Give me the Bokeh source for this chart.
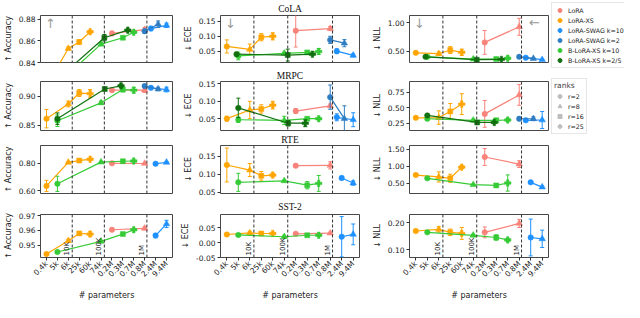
from math import pi
import numpy as np
from bokeh.plotting import figure
from bokeh.layouts import row, column
from bokeh.models import (Range1d, FixedTicker, NumeralTickFormatter, ColumnDataSource,
                          Span, Label, Legend, LegendItem)
from bokeh.core.properties import field
from bokeh.embed import file_html
from bokeh.resources import INLINE

# ---------------- categories / axes ----------------
TICK_LABELS = ["0.4k", "5k", "6k", "25k", "60k", "74k", "0.2M", "0.3M", "0.7M", "0.8M", "2.4M", "9.4M"]
TICK_PARAMS = [4e2, 5e3, 6e3, 2.5e4, 6e4, 7.4e4, 2e5, 3e5, 7e5, 8e5, 2.4e6, 9.4e6]
BOUND_PARAMS = [1e4, 1e5, 1e6]
BOUND_LABELS = ["10K", "100K", "1M"]
DATASETS = ["CoLA", "MRPC", "RTE", "SST-2"]
METRIC_LABELS = ["↑ Accuracy", "↓ ECE", "↓ NLL"]
SERIES = ["LoRA", "LoRA-XS", "LoRA-SWAG k=10", "LoRA-SWAG k=2", "B-LoRA-XS k=10", "B-LoRA-XS k=2/5"]
COLORS = ["#F8837A", "#FFA500", "#1E90FF", "#2E7CC2", "#36CB36", "#11700F"]
RANK_NAMES = ["r=2", "r=8", "r=16", "r=25"]
RANK_VALUES = [2, 8, 16, 25]

# parameter counts / ranks of each method
LORA_PARAMS = [2e5, 8e5];                  LORA_RANKS = [2, 8]
LORAXS_PARAMS = [4e2, 6e3, 2.5e4, 6e4];    LORAXS_RANKS = [2, 8, 16, 25]
SWAG10_PARAMS = [2.4e6, 9.4e6];            SWAG10_PARAMS_CM = [1.5e6, 9.4e6]; SWAG_RANKS = [2, 8]
SWAG2_PARAMS = [8e5, 3.3e6]
BLXS10_PARAMS = [5e3, 7.4e4, 3e5, 7e5];    BLXS10_RANKS = [2, 8, 16, 25]
BLXS25_PARAMS_COLA = [3.4e3, 1.0e5, 4.4e5]; BLXS25_PARAMS_MRPC = [5e3, 1.04e5, 2.8e5]; BLXS25_RANKS = [2, 16, 25]

# ---------------- values (mean, error) ----------------
# CoLA
COLA_ACC_LORA = [0.867, 0.8705];               COLA_ACC_LORA_E = [0.002, 0.002]
COLA_ACC_LORAXS = [0.818, 0.853, 0.859, 0.8685]; COLA_ACC_LORAXS_E = [0.002, 0.0015, 0.002, 0.001]
COLA_ACC_SWAG10 = [0.8715, 0.8745];            COLA_ACC_SWAG10_E = [0.002, 0.002]
COLA_ACC_SWAG2 = [0.869, 0.8755];              COLA_ACC_SWAG2_E = [0.002, 0.003]
COLA_ACC_BLXS10 = [0.820, 0.857, 0.863, 0.868]; COLA_ACC_BLXS10_E = [0.002, 0.0015, 0.001, 0.001]
COLA_ACC_BLXS25 = [0.823, 0.863, 0.870];       COLA_ACC_BLXS25_E = [0.002, 0.003, 0.001]

COLA_ECE_LORA = [0.119, 0.126];                COLA_ECE_LORA_E = [0.055, 0.007]
COLA_ECE_LORAXS = [0.066, 0.056, 0.097, 0.100]; COLA_ECE_LORAXS_E = [0.022, 0.018, 0.012, 0.012]
COLA_ECE_SWAG10 = [0.050, 0.036];              COLA_ECE_SWAG10_E = [0.008, 0.005]
COLA_ECE_SWAG2 = [0.088, 0.077];               COLA_ECE_SWAG2_E = [0.012, 0.012]
COLA_ECE_BLXS10 = [0.034, 0.043, 0.046, 0.049]; COLA_ECE_BLXS10_E = [0.013, 0.004, 0.005, 0.010]
COLA_ECE_BLXS25 = [0.040, 0.037, 0.040];       COLA_ECE_BLXS25_E = [0.006, 0.020, 0.003]

COLA_NLL_LORA = [0.655, 0.93];                 COLA_NLL_LORA_E = [0.21, 0.15]
COLA_NLL_LORAXS = [0.47, 0.455, 0.52, 0.48];   COLA_NLL_LORAXS_E = [0.01, 0.03, 0.06, 0.055]
COLA_NLL_SWAG10 = [0.385, 0.35];               COLA_NLL_SWAG10_E = [0.01, 0.01]
COLA_NLL_SWAG2 = [0.40, 0.37];                 COLA_NLL_SWAG2_E = [0.01, 0.01]
COLA_NLL_BLXS10 = [0.40, 0.36, 0.36, 0.375];   COLA_NLL_BLXS10_E = [0.01, 0.015, 0.01, 0.02]
COLA_NLL_BLXS25 = [0.40, 0.35, 0.355];         COLA_NLL_BLXS25_E = [0.01, 0.01, 0.01]

# MRPC
MRPC_ACC_LORA = [0.911, 0.911];                MRPC_ACC_LORA_E = [0.003, 0.004]
MRPC_ACC_LORAXS = [0.8615, 0.887, 0.906, 0.905]; MRPC_ACC_LORAXS_E = [0.016, 0.005, 0.006, 0.007]
MRPC_ACC_SWAG10 = [0.915, 0.912];              MRPC_ACC_SWAG10_E = [0.003, 0.004]
MRPC_ACC_SWAG2 = [0.918, 0.913];               MRPC_ACC_SWAG2_E = [0.003, 0.003]
MRPC_ACC_BLXS10 = [0.858, 0.889, 0.912, 0.911]; MRPC_ACC_BLXS10_E = [0.010, 0.003, 0.004, 0.005]
MRPC_ACC_BLXS25 = [0.8615, 0.913, 0.9185];     MRPC_ACC_BLXS25_E = [0.010, 0.003, 0.003]

MRPC_ECE_LORA = [0.072, 0.087];                MRPC_ECE_LORA_E = [0.007, 0.005]
MRPC_ECE_LORAXS = [0.050, 0.075, 0.078, 0.089]; MRPC_ECE_LORAXS_E = [0.007, 0.025, 0.012, 0.011]
MRPC_ECE_SWAG10 = [0.054, 0.047];              MRPC_ECE_SWAG10_E = [0.010, 0.020]
MRPC_ECE_SWAG2 = [0.112, 0.050];               MRPC_ECE_SWAG2_E = [0.035, 0.037]
MRPC_ECE_BLXS10 = [0.047, 0.045, 0.050, 0.050]; MRPC_ECE_BLXS10_E = [0.008, 0.012, 0.003, 0.003]
MRPC_ECE_BLXS25 = [0.081, 0.037, 0.037];       MRPC_ECE_BLXS25_E = [0.028, 0.008, 0.010]

MRPC_NLL_LORA = [0.40, 0.71];                  MRPC_NLL_LORA_E = [0.22, 0.17]
MRPC_NLL_LORAXS = [0.335, 0.34, 0.44, 0.56];   MRPC_NLL_LORAXS_E = [0.02, 0.11, 0.13, 0.17]
MRPC_NLL_SWAG10 = [0.295, 0.30];               MRPC_NLL_SWAG10_E = [0.02, 0.14]
MRPC_NLL_SWAG2 = [0.32, 0.32];                 MRPC_NLL_SWAG2_E = [0.03, 0.03]
MRPC_NLL_BLXS10 = [0.32, 0.295, 0.295, 0.30];  MRPC_NLL_BLXS10_E = [0.02, 0.02, 0.03, 0.02]
MRPC_NLL_BLXS25 = [0.375, 0.26, 0.26];         MRPC_NLL_BLXS25_E = [0.015, 0.015, 0.015]

# RTE
RTE_ACC_LORA = [0.798, 0.797];                 RTE_ACC_LORA_E = [0.005, 0.005]
RTE_ACC_LORAXS = [0.635, 0.805, 0.818, 0.828]; RTE_ACC_LORAXS_E = [0.04, 0.004, 0.004, 0.004]
RTE_ACC_SWAG10 = [0.795, 0.805];               RTE_ACC_SWAG10_E = [0.004, 0.004]
RTE_ACC_BLXS10 = [0.65, 0.807, 0.813, 0.815];  RTE_ACC_BLXS10_E = [0.055, 0.004, 0.004, 0.005]

RTE_ECE_LORA = [0.124, 0.125];                 RTE_ECE_LORA_E = [0.005, 0.010]
RTE_ECE_LORAXS = [0.126, 0.112, 0.096, 0.098]; RTE_ECE_LORAXS_E = [0.047, 0.018, 0.012, 0.005]
RTE_ECE_SWAG10 = [0.090, 0.076];               RTE_ECE_SWAG10_E = [0.005, 0.006]
RTE_ECE_BLXS10 = [0.078, 0.082, 0.070, 0.075]; RTE_ECE_BLXS10_E = [0.025, 0.003, 0.010, 0.022]

RTE_NLL_LORA = [1.27, 1.06];                   RTE_NLL_LORA_E = [0.25, 0.10]
RTE_NLL_LORAXS = [0.735, 0.68, 0.64, 0.97];    RTE_NLL_LORAXS_E = [0.03, 0.15, 0.12, 0.04]
RTE_NLL_SWAG10 = [0.52, 0.38];                 RTE_NLL_SWAG10_E = [0.03, 0.03]
RTE_NLL_BLXS10 = [0.64, 0.45, 0.43, 0.50];     RTE_NLL_BLXS10_E = [0.02, 0.02, 0.02, 0.24]

# SST-2
SST_ACC_LORA = [0.9605, 0.9615];               SST_ACC_LORA_E = [0.001, 0.001]
SST_ACC_LORAXS = [0.9438, 0.953, 0.958, 0.9575]; SST_ACC_LORAXS_E = [0.0005, 0.001, 0.001, 0.0015]
SST_ACC_SWAG10 = [0.9565, 0.9645];             SST_ACC_SWAG10_E = [0.0015, 0.0025]
SST_ACC_BLXS10 = [0.9452, 0.9525, 0.9575, 0.9605]; SST_ACC_BLXS10_E = [0.0008, 0.0005, 0.0008, 0.0005]

SST_ECE_LORA = [0.030, 0.032];                 SST_ECE_LORA_E = [0.004, 0.003]
SST_ECE_LORAXS = [0.0276, 0.033, 0.031, 0.031]; SST_ECE_LORAXS_E = [0.002, 0.005, 0.003, 0.002]
SST_ECE_SWAG10 = [0.020, 0.028];               SST_ECE_SWAG10_E = [0.068, 0.035]
SST_ECE_BLXS10 = [0.026, 0.020, 0.025, 0.025]; SST_ECE_BLXS10_E = [0.003, 0.005, 0.002, 0.003]

SST_NLL_LORA = [0.164, 0.197];                 SST_NLL_LORA_E = [0.02, 0.015]
SST_NLL_LORAXS = [0.169, 0.175, 0.164, 0.160]; SST_NLL_LORAXS_E = [0.003, 0.01, 0.012, 0.022]
SST_NLL_SWAG10 = [0.145, 0.140];               SST_NLL_SWAG10_E = [0.068, 0.032]
SST_NLL_BLXS10 = [0.164, 0.153, 0.145, 0.136]; SST_NLL_BLXS10_E = [0.004, 0.004, 0.010, 0.005]

# y ranges / ticks per panel (row = dataset, col = metric)
Y_RANGES = [[(0.84, 0.8836), (0.012, 0.170), (0.30, 1.13)],
            [(0.841, 0.926), (0.016, 0.157), (0.128, 0.93)],
            [(0.58, 0.927), (0.047, 0.18), (0.19, 1.61)],
            [(0.9414, 0.971), (-0.05, 0.095), (0.071, 0.23)]]
Y_TICKS = [[[0.84, 0.86, 0.88], [0.05, 0.10, 0.15], [0.5, 1.0]],
           [[0.85, 0.90], [0.05, 0.10, 0.15], [0.25, 0.50, 0.75]],
           [[0.60, 0.80], [0.05, 0.10, 0.15], [0.5, 1.0, 1.5]],
           [[0.95, 0.96, 0.97], [-0.05, 0.0, 0.05], [0.10, 0.20]]]

# ---------------- panel tables built from the arrays ----------------
def full(pre, swag10_params, blxs25_params):
    out = []
    for m in ["ACC", "ECE", "NLL"]:
        g = globals()
        d = {"LoRA": (LORA_PARAMS, LORA_RANKS, g[f"{pre}_{m}_LORA"], g[f"{pre}_{m}_LORA_E"]),
             "LoRA-XS": (LORAXS_PARAMS, LORAXS_RANKS, g[f"{pre}_{m}_LORAXS"], g[f"{pre}_{m}_LORAXS_E"]),
             "LoRA-SWAG k=10": (swag10_params, SWAG_RANKS, g[f"{pre}_{m}_SWAG10"], g[f"{pre}_{m}_SWAG10_E"]),
             "B-LoRA-XS k=10": (BLXS10_PARAMS, BLXS10_RANKS, g[f"{pre}_{m}_BLXS10"], g[f"{pre}_{m}_BLXS10_E"])}
        if blxs25_params is not None:
            d["LoRA-SWAG k=2"] = (SWAG2_PARAMS, SWAG_RANKS, g[f"{pre}_{m}_SWAG2"], g[f"{pre}_{m}_SWAG2_E"])
            d["B-LoRA-XS k=2/5"] = (blxs25_params, BLXS25_RANKS, g[f"{pre}_{m}_BLXS25"], g[f"{pre}_{m}_BLXS25_E"])
        out.append(d)
    return out

PANELS = [full("COLA", SWAG10_PARAMS_CM, BLXS25_PARAMS_COLA),
          full("MRPC", SWAG10_PARAMS_CM, BLXS25_PARAMS_MRPC),
          full("RTE", SWAG10_PARAMS, None),
          full("SST", SWAG10_PARAMS, None)]

# ---------------- style / layout ----------------
FONT = "DejaVu Sans"
RANK_MARKERS = ["circle", "triangle", "square", "plus"]
RANK_SIZES = [5.5, 6.5, 5.0, 6.5]
COL_L = [35, 47, 49]
COL_FW = [137, 139, 139]
ROW_T = [14, 13, 12, 17]
ROW_FH = [48, 49, 49, 48]
ROW_B = [6, 2, 3, 41]
TITLE_STANDOFF = [3, 1, 1, 6]
XLO, XHI = -0.55, 11.55
LOGT = np.log10(TICK_PARAMS)
IDX = np.arange(len(TICK_PARAMS))


def xpos(params):
    return [float(v) for v in np.interp(np.log10(params), LOGT, IDX)]


def make_fig(ri, ci):
    bottom = ri == 3
    ylo, yhi = Y_RANGES[ri][ci]
    p = figure(width=COL_L[ci] + COL_FW[ci] + 1, height=ROW_T[ri] + ROW_FH[ri] + ROW_B[ri],
               x_range=Range1d(XLO, XHI), y_range=Range1d(ylo, yhi),
               x_axis_location="below" if bottom else None,
               output_backend="svg", toolbar_location=None,
               min_border_left=COL_L[ci], min_border_right=1,
               min_border_top=ROW_T[ri], min_border_bottom=ROW_B[ri])
    p.outline_line_color = "#333333"
    p.outline_line_width = 0.9
    p.grid.visible = False
    ya = p.yaxis[0]
    ya.ticker = FixedTicker(ticks=Y_TICKS[ri][ci])
    ya.formatter = NumeralTickFormatter(format="0.00")
    ya.axis_label = METRIC_LABELS[ci]
    ya.axis_label_text_font = FONT
    ya.axis_label_text_font_size = "8px"
    ya.axis_label_text_font_style = "normal"
    ya.axis_label_text_color = "#1a1a1a"
    ya.axis_label_standoff = 3
    ya.major_label_text_font = FONT
    ya.major_label_text_font_size = "7.5px"
    ya.major_label_text_color = "#1a1a1a"
    ya.major_label_standoff = 2
    ya.major_tick_out = 3
    ya.major_tick_in = 0
    ya.minor_tick_out = 0
    ya.minor_tick_in = 0
    ya.axis_line_color = None
    ya.major_tick_line_color = "#333333"
    if bottom:
        xa = p.xaxis[0]
        xa.ticker = FixedTicker(ticks=list(range(len(TICK_LABELS))))
        xa.major_label_overrides = {i: lab for i, lab in enumerate(TICK_LABELS)}
        xa.major_label_orientation = pi / 4
        xa.major_label_text_font = FONT
        xa.major_label_text_font_size = "7.5px"
        xa.major_label_text_color = "#1a1a1a"
        xa.major_label_standoff = 2
        xa.major_tick_out = 3
        xa.major_tick_in = 0
        xa.minor_tick_out = 0
        xa.minor_tick_in = 0
        xa.axis_line_color = None
        xa.major_tick_line_color = "#333333"
        xa.axis_label = "# parameters"
        xa.axis_label_text_font = FONT
        xa.axis_label_text_font_size = "8px"
        xa.axis_label_text_font_style = "normal"
        xa.axis_label_text_color = "#1a1a1a"
        xa.axis_label_standoff = 6
    return p


def draw_series(p, params, ranks, mean, err, color):
    xs = xpos(params)
    ri = [RANK_VALUES.index(r) for r in ranks]
    src = ColumnDataSource(dict(
        x=xs, y=mean,
        lo=[m - e for m, e in zip(mean, err)], hi=[m + e for m, e in zip(mean, err)],
        marker=[RANK_MARKERS[i] for i in ri], size=[RANK_SIZES[i] for i in ri]))
    p.line("x", "y", source=src, line_color=color, line_width=1.2)
    p.segment("x", "lo", "x", "hi", source=src, line_color=color, line_width=1)
    p.scatter("x", "lo", source=src, marker="dash", size=4, line_color=color, line_width=1)
    p.scatter("x", "hi", source=src, marker="dash", size=4, line_color=color, line_width=1)
    p.scatter("x", "y", source=src, marker=field("marker"), size=field("size"),
              fill_color=color, line_color=color, line_width=0.5)


rows = []
for ri, ds in enumerate(DATASETS):
    figs = []
    for ci in range(3):
        p = make_fig(ri, ci)
        for bx in xpos(BOUND_PARAMS):
            p.add_layout(Span(location=bx, dimension="height", line_color="#333333",
                              line_dash="3 2", line_width=1))
        panel = PANELS[ri][ci]
        for si, name in enumerate(SERIES):
            if name in panel:
                draw_series(p, *panel[name], COLORS[si])
        if ci == 1:
            p.title.text = ds
            p.title.align = "center"
            p.title.text_font = "Liberation Serif"
            p.title.text_font_size = "9.5px"
            p.title.text_font_style = "normal"
            p.title.text_color = "#111111"
            p.title.standoff = TITLE_STANDOFF[ri]
        if ri == 3:
            for bx, bl in zip(xpos(BOUND_PARAMS), BOUND_LABELS):
                p.add_layout(Label(x=bx, y=2, x_units="data", y_units="screen", text=bl,
                                   angle=pi / 2, x_offset=-1, text_align="left",
                                   text_baseline="bottom", text_font=FONT,
                                   text_font_size="7px", text_color="#1a1a1a"))
        if ri == 0:
            arrow = "↑" if ci == 0 else "↓"
            p.add_layout(Label(x=10, y=ROW_FH[ri] - 1, x_units="screen", y_units="screen",
                               text=arrow, text_align="center", text_baseline="top",
                               text_font=FONT, text_font_size="13px", text_color="#9a9a9a"))
            if ci == 2:
                p.add_layout(Label(x=COL_FW[ci] - 14, y=ROW_FH[ri] - 8, x_units="screen",
                                   y_units="screen", text="←", text_align="center",
                                   text_baseline="middle", text_font=FONT,
                                   text_font_size="13px", text_color="#9a9a9a"))
        figs.append(p)
    rows.append(row(*figs, spacing=0))

grid = column(*rows, spacing=0)

# ---------------- legends ----------------
LEG_W = 75
total_h = sum(ROW_T) + sum(ROW_FH) + sum(ROW_B)
NAN = [float("nan")]


def legend_fig(h):
    f = figure(width=LEG_W, height=h, x_range=Range1d(0, 1), y_range=Range1d(0, 1),
               x_axis_location=None, y_axis_location=None, output_backend="svg",
               toolbar_location=None, min_border=0)
    f.outline_line_color = None
    f.grid.visible = False
    return f


lf1 = legend_fig(76)
items = []
for name, color in zip(SERIES, COLORS):
    r = lf1.scatter(x=NAN, y=NAN, marker="circle", size=6, fill_color=color, line_color=color)
    items.append(LegendItem(label=name, renderers=[r]))
leg1 = Legend(items=items, location="top_left", margin=2, padding=2, spacing=0,
              glyph_width=11, glyph_height=10, label_height=10, label_width=10,
              label_standoff=3, label_text_font=FONT, label_text_font_size="6.3px",
              label_text_color="#1a1a1a", border_line_color="#d0d0d0", border_line_width=0.8,
              background_fill_color="white", background_fill_alpha=1)
lf1.add_layout(leg1)

lf2 = legend_fig(total_h - 76)
items2 = []
for rn, mk in zip(RANK_NAMES, RANK_MARKERS):
    r = lf2.scatter(x=NAN, y=NAN, marker=mk, size=6, fill_color="#bdbdbd", line_color="#bdbdbd")
    items2.append(LegendItem(label=rn, renderers=[r]))
leg2 = Legend(items=items2, location="top_left", margin=2, padding=2, spacing=0,
              glyph_width=11, glyph_height=10, label_height=10, label_width=10,
              label_standoff=3, label_text_font=FONT, label_text_font_size="6.3px",
              label_text_color="#1a1a1a", title="ranks", title_text_font=FONT,
              title_text_font_size="7.5px", title_text_font_style="normal",
              title_standoff=1, border_line_color="#d0d0d0", border_line_width=0.8,
              background_fill_color="white", background_fill_alpha=1)
lf2.add_layout(leg2)

layout = row(grid, column(lf1, lf2, spacing=0), spacing=0)

open("out.html", "w").write(file_html(layout, INLINE))
